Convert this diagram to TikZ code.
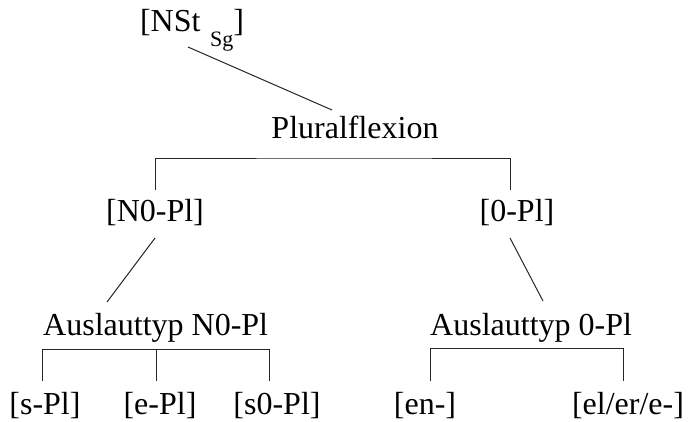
\documentclass[tikz,border=0pt]{standalone}
\usepackage{fontspec}
\setmainfont{Liberation Serif}
\usetikzlibrary{calc}
\newcommand\labfont{\fontsize{32}{38}\selectfont}
\newcommand\mysubfont{\fontsize{22}{26}\selectfont}
\begin{document}
\begin{tikzpicture}[x=1pt,y=-1pt,
  lbl/.style={inner sep=0pt, font=\labfont, text=black},
  edge/.style={line width=1pt, black!85}]
\useasboundingbox (0,0) rectangle (693,421);
% nodes
\node[lbl, anchor=base] (top) at (192,31) {[NSt\hspace{0.3em}\raisebox{-15pt}{\mysubfont Sg}]};
\node[lbl, anchor=base] (plural) at (355,138) {Pluralflexion};
\node[lbl, anchor=base] (n0pl) at (155,221) {[N0-Pl]};
\node[lbl, anchor=base] (zpl) at (517,221) {[0-Pl]};
\node[lbl, anchor=base west] (aus1) at (43,335) {Auslauttyp N0-Pl};
\node[lbl, anchor=base west] (aus2) at (430,335) {Auslauttyp 0-Pl};
\node[lbl, anchor=base] (spl) at (45,414) {[s-Pl]};
\node[lbl, anchor=base] (epl) at (160,414) {[e-Pl]};
\node[lbl, anchor=base] (s0pl) at (277,414) {[s0-Pl]};
\node[lbl, anchor=base] (enpl) at (425,414) {[en-]};
\node[lbl, anchor=base] (elpl) at (628,414) {[el/er/e-]};
% connectors
\draw[edge] ($(top.base)+(-4,16)$) -- ($(plural.base)+(-23,-28)$);
\draw[edge] ($(n0pl.base)+(0,-31)$) |- ($(plural.base)+(0,20)$) -| ($(zpl.base)+(-7,-31)$);
\draw[edge] ($(n0pl.base)+(0,17)$) -- ($(aus1.base west)+(64,-33)$);
\draw[edge] ($(zpl.base)+(-7,17)$) -- ($(aus2.base west)+(113,-34)$);
\draw[edge] ($(spl.base)+(-3,-33)$) -- ($(spl.base)+(-3,-65)$) -- ($(s0pl.base)+(-8,-65)$) -- ($(s0pl.base)+(-8,-33)$);
\draw[edge] ($(epl.base)+(-4,-65)$) -- ($(epl.base)+(-4,-33)$);
\draw[edge] ($(enpl.base)+(5,-33)$) -- ($(enpl.base)+(5,-66)$) -- ($(elpl.base)+(-5,-66)$) -- ($(elpl.base)+(-5,-33)$);
\end{tikzpicture}
\end{document}
